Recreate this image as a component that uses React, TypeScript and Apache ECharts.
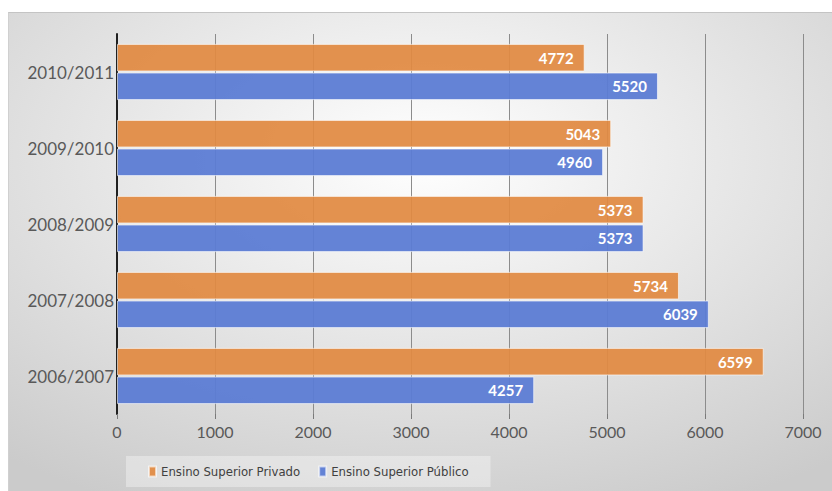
import React, { useEffect, useRef } from "react";
import * as echarts from "echarts";

const categories = ["2006/2007", "2007/2008", "2008/2009", "2009/2010", "2010/2011"];
const privado = [6599, 5734, 5373, 5043, 4772];
const publico = [4257, 6039, 5373, 4960, 5520];
const seriesNames = ["Ensino Superior Privado", "Ensino Superior Público"];
const xTicks = [0, 1000, 2000, 3000, 4000, 5000, 6000, 7000];

const FONT = "Lato, 'Open Sans', sans-serif";
const NARROW = "'DejaVu Sans Condensed', Lato, sans-serif";

export default function App() {
  const ref = useRef<HTMLDivElement>(null);
  useEffect(() => {
    const chart = echarts.init(ref.current!, null, { renderer: "svg" });
    const label = {
      show: true,
      position: "insideRight" as const,
      distance: 11,
      color: "#ffffff",
      fontWeight: "bold" as const,
      fontSize: 15,
      fontFamily: FONT,
    };
    chart.setOption({
      animation: false,
      backgroundColor: {
        type: "radial",
        x: 0.5,
        y: 0.3,
        r: 0.8,
        colorStops: [
          { offset: 0, color: "#ffffff" },
          { offset: 1, color: "#cbcbcb" },
        ],
      },
      grid: { left: 108, right: 36, top: 21, bottom: 81 },
      legend: {
        data: seriesNames,
        bottom: 8,
        left: 117,
        padding: [9, 22, 9, 22],
        backgroundColor: "rgba(255,255,255,0.35)",
        itemWidth: 7,
        itemHeight: 10,
        itemGap: 18,
        icon: "rect",
        textStyle: { color: "#404040", fontSize: 13, fontFamily: NARROW },
      },
      xAxis: {
        type: "value",
        min: xTicks[0],
        max: xTicks[xTicks.length - 1],
        interval: 1000,
        axisLine: { show: false },
        axisTick: { show: true, length: 5, lineStyle: { color: "#7a7a7a" } },
        splitLine: { show: true, lineStyle: { color: "#8c8c8c", width: 1 } },
        axisLabel: {
          color: "#595959",
          fontSize: 16,
          fontFamily: FONT,
          margin: 9,
          formatter: (v: number) => String(v),
        },
      },
      yAxis: {
        type: "category",
        data: categories,
        axisLine: { show: true, lineStyle: { color: "#202020", width: 2 } },
        axisTick: { show: false },
        axisLabel: { color: "#595959", fontSize: 17, fontFamily: FONT, margin: 3 },
      },
      series: [
        {
          name: seriesNames[0],
          type: "bar",
          data: privado,
          barGap: "4%",
          barCategoryGap: "26%",
          itemStyle: { color: "rgba(225,138,66,0.93)", borderColor: "rgba(255,255,255,0.6)", borderWidth: 1 },
          label,
        },
        {
          name: seriesNames[1],
          type: "bar",
          data: publico,
          barGap: "4%",
          barCategoryGap: "26%",
          itemStyle: { color: "rgba(92,124,212,0.95)", borderColor: "rgba(255,255,255,0.6)", borderWidth: 1 },
          label,
        },
      ],
    });
    return () => chart.dispose();
  }, []);
  return (
    <div style={{ position: "fixed", left: 0, top: 0, width: 832, height: 491, background: "#ffffff" }}>
      <div
        ref={ref}
        style={{
          position: "absolute",
          left: 8,
          top: 12,
          width: 830,
          height: 482,
          borderTop: "1px solid #c4c4c4",
          borderLeft: "1px solid #d0d0d0",
        }}
      />
    </div>
  );
}
